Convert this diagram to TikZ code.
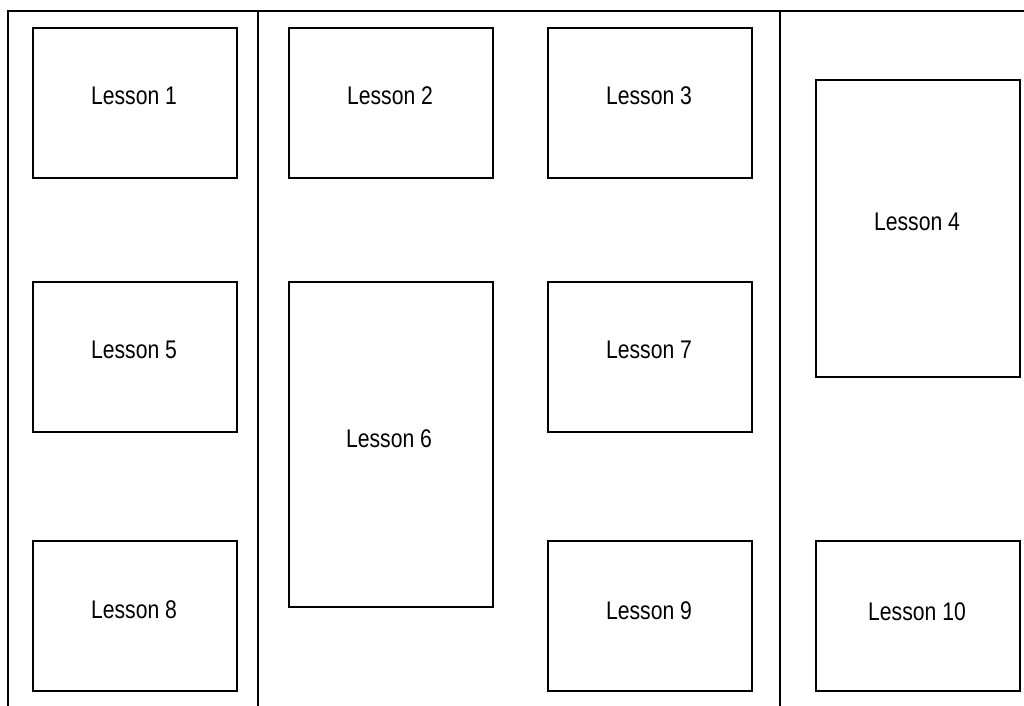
\documentclass[tikz,border=0pt]{standalone}
\usepackage{graphicx}
\usepackage{fontspec}
\setmainfont{Liberation Sans}
\newcommand\lsntext[1]{\scalebox{0.83}[1]{#1}}
\begin{document}
\begin{tikzpicture}[x=1pt,y=-1pt,
  lesson/.style={draw=black,line width=2.8pt,fill=white},
  rule/.style={draw=black,line width=2.8pt},
  lbl/.style={font=\fontsize{25.5}{28}\selectfont,inner sep=0pt}]
\useasboundingbox (0,0) rectangle (1024,705);
% frame lines
\coordinate (tl) at (8,11);
\coordinate (tr) at (1025,11);
\coordinate (bl) at (8,706);
\coordinate (m1t) at (258,11);
\coordinate (m1b) at (258,706);
\coordinate (m2t) at (780,11);
\coordinate (m2b) at (780,706);
\draw[rule] (bl) -- (tl) -- (tr);
\draw[rule] (m1t) -- (m1b);
\draw[rule] (m2t) -- (m2b);
% boxes
\draw[lesson] (33,28) rectangle (237,178);
\draw[lesson] (289,28) rectangle (493,178);
\draw[lesson] (548,28) rectangle (752,178);
\draw[lesson] (816,80) rectangle (1020,377);
\draw[lesson] (33,282) rectangle (237,432);
\draw[lesson] (289,282) rectangle (493,607);
\draw[lesson] (548,282) rectangle (752,432);
\draw[lesson] (33,541) rectangle (237,691);
\draw[lesson] (548,541) rectangle (752,691);
\draw[lesson] (816,541) rectangle (1020,691);
% labels
\node[lbl] (l1) at (134,96) {\lsntext{Lesson 1}};
\node[lbl] (l2) at (390,96) {\lsntext{Lesson 2}};
\node[lbl] (l3) at (649,96) {\lsntext{Lesson 3}};
\node[lbl] (l4) at (917,222) {\lsntext{Lesson 4}};
\node[lbl] (l5) at (134,350) {\lsntext{Lesson 5}};
\node[lbl] (l6) at (389,439) {\lsntext{Lesson 6}};
\node[lbl] (l7) at (649,350) {\lsntext{Lesson 7}};
\node[lbl] (l8) at (134,610) {\lsntext{Lesson 8}};
\node[lbl] (l9) at (649,611) {\lsntext{Lesson 9}};
\node[lbl] (l10) at (917,612) {\lsntext{Lesson 10}};
\end{tikzpicture}
\end{document}
